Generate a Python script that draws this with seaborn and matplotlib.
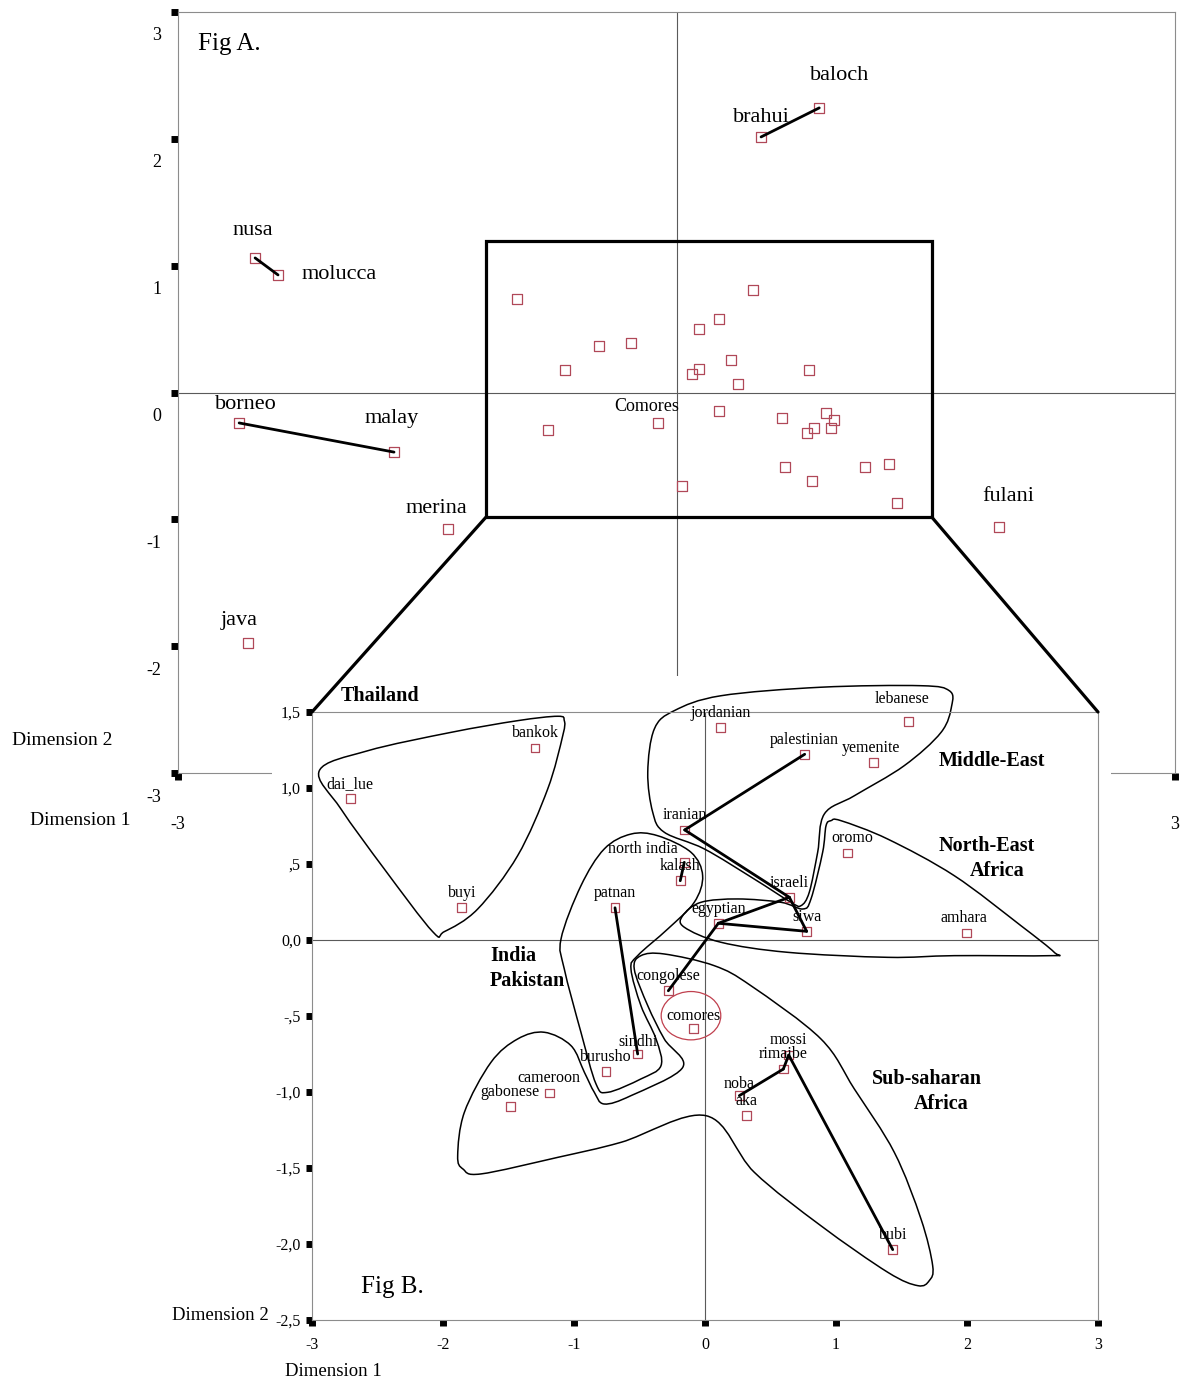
import numpy as np
import pandas as pd
import seaborn as sns
import matplotlib.pyplot as plt
from matplotlib.path import Path
from matplotlib.patches import PathPatch, Rectangle, Ellipse, ConnectionPatch
from matplotlib.transforms import ScaledTranslation

# ---- Fig A data (labelled populations) ----
a_names = ['baloch', 'brahui', 'nusa', 'molucca', 'borneo', 'malay', 'merina', 'java', 'fulani', 'Comores']
a_dim1 = [0.859, 0.509, -2.536, -2.398, -2.632, -1.70, -1.375, -2.578, 1.94, -0.111]
a_dim2 = [2.244, 2.015, 1.061, 0.927, -0.24, -0.47, -1.076, -1.975, -1.06, -0.243]

# Fig A unlabelled points inside the zoom box
a_in_dim1 = [-0.962, 0.458, 0.254, 0.135, -0.464, -0.272, -0.669, 0.328, 0.137, 0.095, 0.797, 0.372, 0.254,
             -0.773, 0.635, 0.901, 0.946, 0.827, 0.930, 0.783, 0.651, 0.813, 1.136, 1.280, 1.327, 0.035]
a_in_dim2 = [0.735, 0.811, 0.582, 0.503, 0.369, 0.390, 0.180, 0.256, 0.183, 0.144, 0.180, 0.067, -0.144,
             -0.298, -0.203, -0.164, -0.219, -0.278, -0.278, -0.317, -0.585, -0.698, -0.585, -0.566, -0.871, -0.737]

a_pairs = [('baloch', 'brahui'), ('nusa', 'molucca'), ('borneo', 'malay')]
zoom_box = [-1.146, -0.982, 1.536, 1.192]

a_ticks = [-3, -2, -1, 0, 1, 2, 3]
a_yticklabels = ['-3', '-2', '-1', '0', '1', '2', '3']
# only the outer x labels are visible, the rest sit under Fig B
a_xticklabels = ['-3', '', '', '', '', '', '3']

# ---- Fig B data ----
b_names = ['bankok', 'dai_lue', 'buyi', 'jordanian', 'lebanese', 'palestinian', 'yemenite', 'iranian',
           'north india', 'kalash', 'patnan', 'israeli', 'egyptian', 'siwa', 'oromo', 'amhara',
           'congolese', 'comores', 'sindhi', 'burusho', 'cameroon', 'gabonese', 'mossi', 'rimaibe',
           'noba', 'aka', 'bubi']
b_dim1 = [-1.298, -2.708, -1.857, 0.120, 1.552, 0.761, 1.285, -0.155,
          -0.158, -0.189, -0.687, 0.644, 0.102, 0.776, 1.089, 1.998,
          -0.280, -0.089, -0.514, -0.756, -1.189, -1.486, 0.639, 0.598,
          0.262, 0.315, 1.433]
b_dim2 = [1.263, 0.932, 0.212, 1.399, 1.439, 1.222, 1.169, 0.724,
          0.511, 0.390, 0.212, 0.281, 0.110, 0.057, 0.572, 0.046,
          -0.334, -0.581, -0.750, -0.864, -1.007, -1.094, -0.757, -0.849,
          -1.024, -1.156, -2.037]

b_pairs = [('palestinian', 'iranian'), ('iranian', 'israeli'), ('israeli', 'siwa'), ('siwa', 'egyptian'),
           ('egyptian', 'israeli'), ('egyptian', 'congolese'), ('north india', 'kalash'),
           ('patnan', 'sindhi'), ('noba', 'rimaibe'), ('rimaibe', 'mossi'), ('mossi', 'bubi')]

b_xticks = [-3, -2, -1, 0, 1, 2, 3]
b_xticklabels = ['-3', '-2', '-1', '0', '1', '2', '3']
b_yticks = [1.5, 1.0, 0.5, 0.0, -0.5, -1.0, -1.5, -2.0, -2.5]
b_yticklabels = ['1,5', '1,0', ',5', '0,0', '-,5', '-1,0', '-1,5', '-2,0', '-2,5']

# hand-drawn group outlines (points on the curve, data units of Fig B)
thai_hull = [(-2.944, 1.114), (-2.575, 1.245), (-1.939, 1.366), (-1.430, 1.443), (-1.124, 1.472),
             (-1.074, 1.443), (-1.086, 1.344), (-1.201, 0.993), (-1.430, 0.555), (-1.735, 0.204),
             (-1.990, 0.055), (-2.079, 0.055), (-2.448, 0.467), (-2.779, 0.862)]
mideast_hull = [(-0.234, 1.509), (0.122, 1.607), (0.885, 1.663), (1.649, 1.673), (1.865, 1.640),
                (1.883, 1.541), (1.802, 1.366), (1.521, 1.147), (1.140, 0.949), (0.911, 0.829),
                (0.860, 0.577), (0.796, 0.314), (0.733, 0.226), (0.656, 0.248), (0.376, 0.401),
                (-0.005, 0.599), (-0.311, 0.709), (-0.399, 0.840), (-0.437, 1.103), (-0.387, 1.388)]
neafrica_hull = [(0.962, 0.785), (1.038, 0.785), (1.395, 0.664), (1.903, 0.423), (2.412, 0.094),
                 (2.666, -0.081), (2.641, -0.103), (1.903, -0.103), (1.395, -0.114), (0.631, -0.081),
                 (0.122, -0.015), (-0.158, 0.084), (-0.170, 0.160), (-0.031, 0.248), (0.250, 0.270),
                 (0.580, 0.248), (0.746, 0.204), (0.809, 0.270), (0.898, 0.577), (0.924, 0.752)]
indpak_hull = [(-0.565, 0.697), (-0.361, 0.686), (-0.107, 0.577), (-0.018, 0.423), (-0.082, 0.248),
               (-0.285, 0.072), (-0.514, -0.103), (-0.565, -0.191), (-0.489, -0.432), (-0.374, -0.651),
               (-0.336, -0.827), (-0.489, -0.914), (-0.743, -1.002), (-0.832, -0.947), (-0.947, -0.607),
               (-1.074, -0.191), (-1.099, 0.007), (-0.947, 0.357), (-0.769, 0.599)]
subsah_hull = [(-1.888, -1.419), (-1.837, -1.134), (-1.634, -0.805), (-1.430, -0.651), (-1.227, -0.607),
               (-1.023, -0.695), (-0.921, -0.870), (-0.845, -1.002), (-0.769, -1.079), (-0.565, -1.024),
               (-0.170, -0.838), (-0.311, -0.651), (-0.437, -0.432), (-0.540, -0.191), (-0.489, -0.103),
               (-0.311, -0.092), (0.071, -0.169), (0.351, -0.301), (0.885, -0.651), (1.140, -0.980),
               (1.445, -1.397), (1.649, -1.836), (1.738, -2.143), (1.712, -2.241), (1.624, -2.274),
               (1.395, -2.186), (0.885, -1.880), (0.376, -1.528), (0.008, -1.156), (-0.641, -1.331),
               (-1.124, -1.430), (-1.710, -1.539), (-1.847, -1.507)]

# styling
pt_c = '#b04858'
spine_c = '#8c8c8c'
zero_c = '#5a5a5a'

sns.set_style('white')
plt.rcParams['font.family'] = ['Liberation Serif', 'DejaVu Serif']
plt.rcParams['text.color'] = 'black'
plt.rcParams['axes.labelcolor'] = 'black'
plt.rcParams['xtick.color'] = 'black'
plt.rcParams['ytick.color'] = 'black'


def smooth_outline(ax, pts, **kw):
    # closed Catmull-Rom curve through the given points, drawn as cubic Bezier path
    p = np.asarray(pts, float)
    n = len(p)
    verts = [p[0]]
    codes = [Path.MOVETO]
    for i in range(n):
        p0, p1, p2, p3 = p[i - 1], p[i], p[(i + 1) % n], p[(i + 2) % n]
        verts += [p1 + (p2 - p0) / 6, p2 - (p3 - p1) / 6, p2]
        codes += [Path.CURVE4] * 3
    ax.add_patch(PathPatch(Path(verts, codes), fill=False, clip_on=False, **kw))


fig = plt.figure(figsize=(11.82, 13.78), dpi=100)
axA = fig.add_axes([178 / 1182, 1 - 773 / 1378, 997 / 1182, 761 / 1378])
axB = fig.add_axes([312 / 1182, 1 - 1320 / 1378, 786 / 1182, 608 / 1378])
axA.set_zorder(0)
axB.set_zorder(1)

# ---------------- Fig A ----------------
dfA = pd.DataFrame({'name': a_names, 'dim1': a_dim1, 'dim2': a_dim2})
dfA_in = pd.DataFrame({'dim1': a_in_dim1, 'dim2': a_in_dim2})

axA.set_xlim(-3, 3)
axA.set_ylim(-3, 3)
axA.axhline(0, color=zero_c, lw=0.8, zorder=1)
axA.axvline(0, color=zero_c, lw=0.8, zorder=1)

posA = dfA.set_index('name')
for a, b in a_pairs:
    axA.plot([posA.loc[a, 'dim1'], posA.loc[b, 'dim1']], [posA.loc[a, 'dim2'], posA.loc[b, 'dim2']],
             color='black', lw=2.0, zorder=4)

for d in (dfA, dfA_in):
    sns.scatterplot(data=d, x='dim1', y='dim2', marker='s', s=50, color=pt_c, facecolor='none',
                    edgecolor=pt_c, linewidth=0.9, ax=axA, zorder=3)

a_offsets = {'baloch': (15, 23), 'brahui': (0, 13.7), 'nusa': (-2, 20), 'molucca': (44, 0),
             'borneo': (5, 13), 'malay': (-1.5, 24), 'merina': (-8.6, 14.4), 'java': (-6.5, 16),
             'fulani': (6.5, 21.6), 'Comores': (-8, 12)}
for _, r in dfA.iterrows():
    axA.annotate(r['name'], (r['dim1'], r['dim2']), xytext=a_offsets[r['name']], textcoords='offset points',
                 ha='center', va='center', fontsize=13 if r['name'] == 'Comores' else 16, zorder=5)

x0, y0, x1, y1 = zoom_box
axA.add_patch(Rectangle((x0, y0), x1 - x0, y1 - y0, fill=False, lw=2.3, ec='black', zorder=4))
axA.text(-2.693, 2.748, 'Fig A.', fontsize=18, ha='center', va='center')

axA.set_xticks(a_ticks)
axA.set_xticklabels(a_xticklabels)
axA.set_yticks(a_ticks)
axA.set_yticklabels(a_yticklabels)
axA.tick_params(axis='both', direction='out', length=5, width=5, color='black', labelsize=13,
                left=True, bottom=True, top=False, right=False)
axA.tick_params(axis='x', pad=26)
axA.tick_params(axis='y', pad=7)
off = ScaledTranslation(0, -0.22, fig.dpi_scale_trans)
for lab in axA.get_yticklabels():
    lab.set_transform(lab.get_transform() + off)
for s in axA.spines.values():
    s.set_color(spine_c)
    s.set_linewidth(0.8)
axA.set_xlabel('Dimension 1', fontsize=14)
axA.set_ylabel('Dimension 2', fontsize=14, rotation=0, ha='center', va='center')
axA.xaxis.set_label_coords(-0.098, -0.051)
axA.yaxis.set_label_coords(-0.116, 0.043)

# white cover so Fig B sits on top of Fig A
fig.add_artist(Rectangle((272 / 1182, 0), 839 / 1182, 702 / 1378, transform=fig.transFigure,
                         fc='white', ec='none', zorder=0.5))

# ---------------- Fig B ----------------
dfB = pd.DataFrame({'name': b_names, 'dim1': b_dim1, 'dim2': b_dim2})
axB.set_facecolor('white')
axB.set_xlim(-3, 3)
axB.set_ylim(-2.5, 1.5)
axB.axhline(0, color=zero_c, lw=0.8, zorder=1)
axB.axvline(0, color=zero_c, lw=0.8, zorder=1)

for hull in (thai_hull, mideast_hull, neafrica_hull, indpak_hull, subsah_hull):
    smooth_outline(axB, hull, ec='black', lw=1.1, zorder=2)
axB.add_patch(Ellipse((-0.107, -0.498), 0.455, 0.318, fill=False, ec='#c0404e', lw=0.9, zorder=2))

posB = dfB.set_index('name')
for a, b in b_pairs:
    axB.plot([posB.loc[a, 'dim1'], posB.loc[b, 'dim1']], [posB.loc[a, 'dim2'], posB.loc[b, 'dim2']],
             color='black', lw=2.0, zorder=4)

sns.scatterplot(data=dfB, x='dim1', y='dim2', marker='s', s=38, color=pt_c, facecolor='none',
                edgecolor=pt_c, linewidth=0.9, ax=axB, zorder=3)

b_offsets = {'lebanese': (-4.3, 15.8), 'north india': (-29.5, 9.4), 'oromo': (3.6, 10.5),
             'yemenite': (-2, 10.5), 'amhara': (-2, 10.5), 'noba': (0, 8.6), 'comores': (0, 8.6),
             'sindhi': (0, 8.8)}
for _, r in dfB.iterrows():
    axB.annotate(r['name'], (r['dim1'], r['dim2']), xytext=b_offsets.get(r['name'], (0, 10.5)),
                 textcoords='offset points', ha='center', va='center', fontsize=11.5, zorder=5)

bold = dict(fontsize=14.5, fontweight='bold', va='center', clip_on=False)
axB.text(-2.481, 1.605, 'Thailand', ha='center', **bold)
axB.text(2.191, 1.178, 'Middle-East', ha='center', **bold)
axB.text(2.153, 0.618, 'North-East', ha='center', **bold)
axB.text(2.229, 0.454, 'Africa', ha='center', **bold)
axB.text(-1.641, -0.105, 'India', ha='left', **bold)
axB.text(-1.641, -0.270, 'Pakistan', ha='left', **bold)
axB.text(1.695, -0.914, 'Sub-saharan', ha='center', **bold)
axB.text(1.802, -1.079, 'Africa', ha='center', **bold)
axB.text(-2.389, -2.283, 'Fig B.', fontsize=18, ha='center', va='center')

axB.set_xticks(b_xticks)
axB.set_xticklabels(b_xticklabels)
axB.set_yticks(b_yticks)
axB.set_yticklabels(b_yticklabels)
axB.tick_params(axis='both', direction='out', length=4, width=5, color='black', labelsize=11.5,
                left=True, bottom=True, top=False, right=False)
axB.tick_params(axis='x', pad=8)
axB.tick_params(axis='y', pad=4)
for s in axB.spines.values():
    s.set_color(spine_c)
    s.set_linewidth(0.8)
axB.set_xlabel('Dimension 1', fontsize=13.5)
axB.set_ylabel('Dimension 2', fontsize=13.5, rotation=0, ha='center', va='center')
axB.xaxis.set_label_coords(0.027, -0.070)
axB.yaxis.set_label_coords(-0.117, 0.007)

# zoom connector lines from the Fig A box to Fig B
for xa, xb in ((x0, -3), (x1, 3)):
    con = ConnectionPatch(xyA=(xa, y0), coordsA=axA.transData, xyB=(xb, 1.5), coordsB=axB.transData,
                          color='black', lw=2.3)
    con.set_zorder(2)
    fig.add_artist(con)

fig.savefig('out.png', dpi=100)
